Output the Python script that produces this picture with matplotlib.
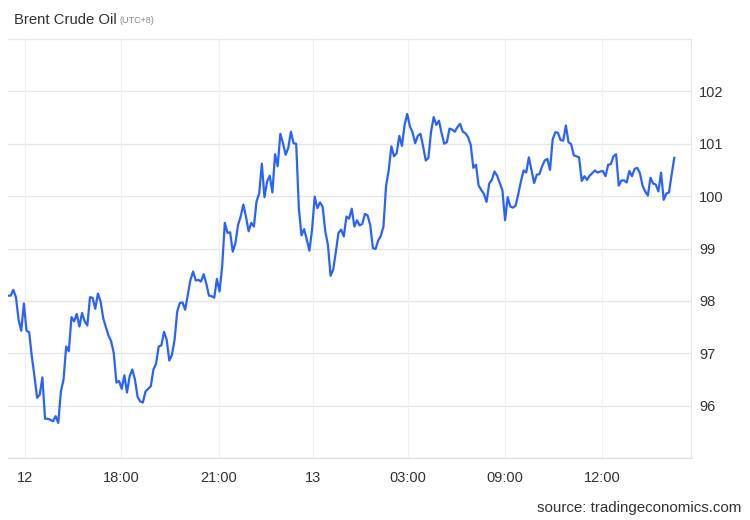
import matplotlib
matplotlib.use('Agg')
import matplotlib.pyplot as plt
import numpy as np

plt.rcParams['font.family'] = ['Liberation Sans', 'DejaVu Sans']

# Brent crude, intraday quotes (USD/bbl)
price = [
    98.10, 98.10, 98.21, 98.07, 97.64, 97.43, 97.95, 97.43, 97.40, 96.94,
    96.56, 96.15, 96.21, 96.54, 95.75, 95.75, 95.73, 95.70, 95.80, 95.67,
    96.27, 96.50, 97.13, 97.04, 97.69, 97.61, 97.75, 97.51, 97.77, 97.61,
    97.53, 98.07, 98.06, 97.85, 98.14, 97.99, 97.67, 97.50, 97.34, 97.23,
    97.00, 96.44, 96.47, 96.32, 96.58, 96.25, 96.56, 96.69, 96.50, 96.17,
    96.08, 96.06, 96.27, 96.32, 96.37, 96.69, 96.80, 97.13, 97.15, 97.41,
    97.26, 96.86, 96.97, 97.26, 97.80, 97.96, 97.97, 97.83, 98.12, 98.40,
    98.56, 98.39, 98.40, 98.37, 98.51, 98.33, 98.10, 98.09, 98.06, 98.42,
    98.18, 98.66, 99.49, 99.30, 99.31, 98.94, 99.10, 99.45, 99.61, 99.84,
    99.61, 99.33, 99.49, 99.42, 99.90, 100.05, 100.62, 99.98, 100.28, 100.39,
    100.07, 100.80, 100.57, 101.19, 101.01, 100.79, 100.92, 101.23, 101.01, 101.00,
    99.77, 99.25, 99.37, 99.17, 98.96, 99.36, 99.99, 99.77, 99.88, 99.80,
    99.33, 99.07, 98.48, 98.60, 98.94, 99.30, 99.36, 99.23, 99.61, 99.57,
    99.76, 99.42, 99.54, 99.44, 99.47, 99.66, 99.63, 99.45, 99.01, 98.99,
    99.15, 99.24, 99.42, 100.20, 100.50, 100.95, 100.76, 100.82, 101.15, 100.96,
    101.36, 101.57, 101.33, 101.22, 101.01, 101.15, 101.19, 100.95, 100.68, 100.73,
    101.23, 101.51, 101.36, 101.44, 101.20, 101.00, 101.03, 101.29, 101.27, 101.23,
    101.32, 101.38, 101.23, 101.20, 101.13, 100.98, 100.54, 100.60, 100.20, 100.12,
    100.04, 99.89, 100.24, 100.31, 100.47, 100.39, 100.25, 100.11, 99.54, 99.98,
    99.80, 99.78, 99.82, 100.04, 100.28, 100.49, 100.45, 100.74, 100.50, 100.25,
    100.41, 100.42, 100.57, 100.68, 100.71, 100.50, 101.08, 101.22, 101.21, 101.07,
    101.06, 101.35, 101.03, 100.99, 100.78, 100.76, 100.74, 100.29, 100.38, 100.31,
    100.39, 100.44, 100.49, 100.45, 100.47, 100.48, 100.38, 100.60, 100.61, 100.76,
    100.80, 100.20, 100.30, 100.30, 100.26, 100.48, 100.38, 100.52, 100.54, 100.44,
    100.20, 100.09, 100.01, 100.35, 100.24, 100.22, 100.09, 100.45, 99.93, 100.05,
    100.07, 100.41, 100.73,
]
x_labels = ['12', '18:00', '21:00', '13', '03:00', '09:00', '12:00']
# where each label falls, as a fraction of the plotted span
x_label_frac = [0.0251, 0.170, 0.3164, 0.4575, 0.600, 0.7458, 0.8914]
y_ticks = [96, 97, 98, 99, 100, 101, 102]

n = len(price)
idx = np.arange(n)
span = n - 1

fig = plt.figure(figsize=(7.5, 5.2), dpi=100)
ax = fig.add_axes([0.0107, 0.1192, 0.9106, 0.8058])

grid_c = '#e6e6e6'
for v in range(95, 104):
    ax.axhline(v, color=grid_c, lw=0.9, zorder=0)
for f in x_label_frac:
    ax.axvline(f * span, color='#f0f0f0', lw=0.9, zorder=0)

ax.plot(idx, price, color='#2962ff', lw=1.6, solid_joinstyle='round', zorder=3)

ax.set_xlim(0, span * (691 - 8.3) / 666)
ax.set_ylim(95, 103)

ax.set_xticks([f * span for f in x_label_frac])
ax.set_xticklabels(x_labels)
ax.yaxis.tick_right()
ax.set_yticks(y_ticks)
ax.set_yticklabels([str(v) for v in y_ticks])
ax.tick_params(axis='both', length=0, labelsize=10.5, colors='#333333')
ax.tick_params(axis='x', pad=9)
ax.tick_params(axis='y', pad=6)

for s in ['top', 'left']:
    ax.spines[s].set_visible(False)
ax.spines['bottom'].set_color('#dddddd')
ax.spines['right'].set_color('#e6e6e6')

fig.text(0.0187, 0.962, 'Brent Crude Oil', fontsize=10.7, color='#333333',
         ha='left', va='center')
fig.text(0.159, 0.96, '(UTC+8)', fontsize=6.5, color='#888888',
         ha='left', va='center')
fig.text(0.989, 0.023, 'source: tradingeconomics.com', fontsize=10.9,
         color='#333333', ha='right', va='center')

fig.savefig('out.png', dpi=100)
